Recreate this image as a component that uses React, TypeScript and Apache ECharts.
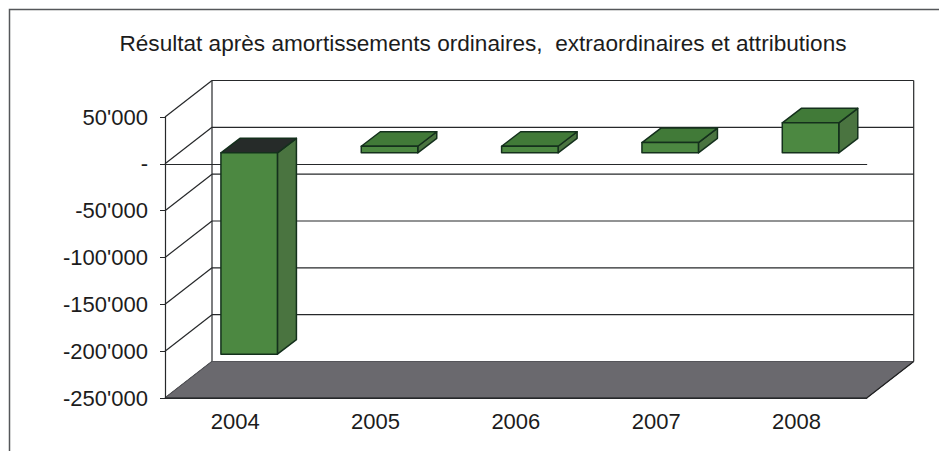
import React, { useEffect, useRef } from "react";
import * as echarts from "echarts";

const titleText = "Résultat après amortissements ordinaires,  extraordinaires et attributions";
const years = ["2004", "2005", "2006", "2007", "2008"];
const results = [-215000, 7000, 7000, 11000, 32000];
const yTicks = [50000, 0, -50000, -100000, -150000, -200000, -250000];
const yTickLabels = ["50'000", "-", "-50'000", "-100'000", "-150'000", "-200'000", "-250'000"];

const FONT = '"Liberation Sans", Arial, sans-serif';
const INK = "#26282a";
const WALL_DX = 47;
const WALL_DY = -36.5;
const BAR_DX = 14;
const BAR_DY = -11;
const DEPTH_DX = 19;
const DEPTH_DY = -14.5;
const BAR_W = 56.5;

const poly = (points: number[][], fill: string, stroke = "#14301c", lineWidth = 1.5) => ({
  type: "polygon",
  shape: { points },
  style: { fill, stroke, lineWidth, lineJoin: "round" },
});
const line = (a: number[], b: number[], stroke = INK, lineWidth = 1.2) => ({
  type: "line",
  shape: { x1: a[0], y1: a[1], x2: b[0], y2: b[1] },
  style: { stroke, lineWidth },
});

const renderWallLine = (_: any, api: any) => {
  const v = api.value(1);
  const band = api.size([1, 0])[0];
  const l = api.coord([0, v]);
  const r = api.coord([years.length - 1, v]);
  const x0 = l[0] - band / 2;
  const x1 = r[0] + band / 2;
  const y = l[1];
  const a = [x0 + WALL_DX, y + WALL_DY];
  const b = [x1 + WALL_DX, y + WALL_DY];
  return {
    type: "group",
    children: [line([x0, y], a), line(a, b)],
  };
};

const renderFrame = (_: any, api: any) => {
  const band = api.size([1, 0])[0];
  const lo = yTicks[yTicks.length - 1];
  const hi = yTicks[0];
  const x0 = api.coord([0, lo])[0] - band / 2;
  const x1 = api.coord([years.length - 1, lo])[0] + band / 2;
  const yb = api.coord([0, lo])[1];
  const yt = api.coord([0, hi])[1];
  const backB = yb + WALL_DY;
  const backT = yt + WALL_DY;
  return {
    type: "group",
    children: [
      line([x0 + WALL_DX, backT], [x0 + WALL_DX, backB]),
      line([x1 + WALL_DX, backT], [x1 + WALL_DX, backB]),
      poly(
        [
          [x0, yb],
          [x0 + WALL_DX, backB],
          [x1 + WALL_DX, backB],
          [x1, yb],
        ],
        "#6a696e",
        "#55555a",
        1
      ),
      line([x0, yb], [x1, yb], "#1f2021"),
      line([x1, yb], [x1 + WALL_DX, backB], "#1f2021"),
    ],
  };
};

const renderBar = (_: any, api: any) => {
  const i = api.value(0);
  const v = api.value(1);
  const base = api.coord([i, 0]);
  const end = api.coord([i, v]);
  const x0 = base[0] + BAR_DX - BAR_W / 2;
  const x1 = x0 + BAR_W;
  const yTop = Math.min(base[1], end[1]) + BAR_DY;
  const yBot = Math.max(base[1], end[1]) + BAR_DY;
  return {
    type: "group",
    children: [
      poly(
        [
          [x1, yTop],
          [x1 + DEPTH_DX, yTop + DEPTH_DY],
          [x1 + DEPTH_DX, yBot + DEPTH_DY],
          [x1, yBot],
        ],
        "#4a7440"
      ),
      poly(
        [
          [x0, yTop],
          [x0 + DEPTH_DX, yTop + DEPTH_DY],
          [x1 + DEPTH_DX, yTop + DEPTH_DY],
          [x1, yTop],
        ],
        v < 0 ? "#262b29" : "#417a38"
      ),
      poly(
        [
          [x0, yTop],
          [x1, yTop],
          [x1, yBot],
          [x0, yBot],
        ],
        "#4c8841"
      ),
    ],
  };
};

export default function App() {
  const ref = useRef<HTMLDivElement>(null);
  useEffect(() => {
    const chart = echarts.init(ref.current!, undefined, { renderer: "svg" });
    const axisLine = { lineStyle: { color: INK, width: 1.2 } };
    chart.setOption({
      animation: false,
      backgroundColor: "#ffffff",
      title: {
        text: titleText,
        left: 478,
        top: 27,
        textAlign: "center",
        textStyle: { fontFamily: FONT, fontSize: 22.6, fontWeight: "normal", color: "#1c1c1c" },
      },
      grid: { left: 165, top: 117, width: 701.7, height: 281 },
      xAxis: [
        {
          type: "category",
          data: years,
          z: 1,
          axisLine: { ...axisLine, onZero: false },
          axisTick: { length: 5, lineStyle: { color: INK } },
          axisLabel: { fontFamily: FONT, fontSize: 22, color: "#1c1c1c", margin: 12 },
          splitLine: { show: false },
        },
        {
          type: "category",
          data: years,
          position: "bottom",
          z: 1,
          axisLine: { ...axisLine, onZero: true },
          axisTick: { length: 5, lineStyle: { color: INK } },
          axisLabel: { show: false },
          splitLine: { show: false },
        },
      ],
      yAxis: {
        type: "value",
        min: -250000,
        max: 50000,
        interval: 50000,
        z: 1,
        axisLine: { show: true, onZero: false, ...axisLine },
        axisTick: { show: true, length: 5, lineStyle: { color: INK } },
        splitLine: { show: false },
        axisLabel: {
          fontFamily: FONT,
          fontSize: 22,
          color: "#1c1c1c",
          margin: 17,
          formatter: (v: number) => yTickLabels[yTicks.indexOf(v)] ?? "",
        },
      },
      graphic: [
        {
          type: "polyline",
          silent: true,
          z: -1,
          shape: { points: [[9.5, 451], [9.5, 9.5], [939, 9.5]] },
          style: { stroke: "#55575a", lineWidth: 1.5, fill: "none" },
        },
      ],
      series: [
        {
          type: "custom",
          name: "walls",
          z: 0,
          clip: false,
          silent: true,
          renderItem: renderWallLine,
          data: yTicks.map((v) => [0, v]),
        },
        {
          type: "custom",
          name: "floor",
          z: 0,
          clip: false,
          silent: true,
          renderItem: renderFrame,
          data: [[0, yTicks[yTicks.length - 1]]],
        },
        {
          type: "custom",
          name: "Résultat",
          z: 3,
          clip: false,
          renderItem: renderBar,
          data: results.map((v, i) => [i, v]),
        },
      ],
    });
    return () => chart.dispose();
  }, []);
  return (
    <div
      ref={ref}
      style={{ position: "fixed", left: 0, top: 0, width: 939, height: 451, background: "#fff" }}
    />
  );
}
